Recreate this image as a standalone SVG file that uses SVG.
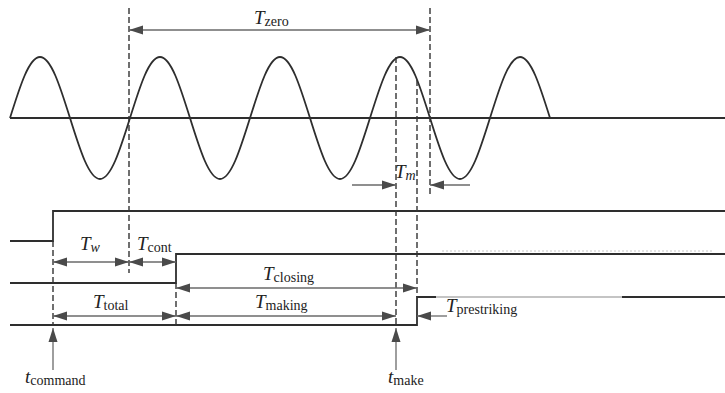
<svg xmlns="http://www.w3.org/2000/svg" width="725" height="393" viewBox="0 0 725 393">
<defs>
<style>
.sig{fill:none;stroke:#2e2e2e;stroke-width:1.8}
.dash{fill:none;stroke:#333;stroke-width:1.4;stroke-dasharray:6,3}
.arr{fill:none;stroke:#6a6a6a;stroke-width:1.3}
.t{font-family:"Liberation Serif",serif;font-size:19px;fill:#222}
.it{font-style:italic}
.sub{font-size:14px}
</style>
<marker id="ah" viewBox="0 0 14 9" refX="14" refY="4.5" markerWidth="14" markerHeight="9" markerUnits="userSpaceOnUse" orient="auto-start-reverse" overflow="visible">
<path d="M0,0 L14,4.5 L0,9 Z" fill="#4a4a4a"/>
</marker>
</defs>
<rect width="725" height="393" fill="#fff"/>
<g id="wave">
<line x1="10" y1="118" x2="725" y2="118" class="sig" stroke-width="1.6"/>
<path class="sig" stroke-width="1.6" d="M10,118 c10.03,-32.03 19.11,-61 30,-61 c10.89,0 19.97,28.97 30,61 c10.03,32.03 19.11,61 30,61 c10.89,0 19.97,-28.97 30,-61 c10.03,-32.03 19.11,-61 30,-61 c10.89,0 19.97,28.97 30,61 c10.03,32.03 19.11,61 30,61 c10.89,0 19.97,-28.97 30,-61 c10.03,-32.03 19.11,-61 30,-61 c10.89,0 19.97,28.97 30,61 c10.03,32.03 19.11,61 30,61 c10.89,0 19.97,-28.97 30,-61 c10.03,-32.03 19.11,-61 30,-61 c10.89,0 19.97,28.97 30,61 c10.03,32.03 19.11,61 30,61 c10.89,0 19.97,-28.97 30,-61 c10.03,-32.03 19.11,-61 30,-61 c10.89,0 19.97,28.97 30,61"/>
</g>
<g id="signals">
<path class="sig" d="M10,241 H53 V211 H725"/>
<path class="sig" d="M10,283 H176 V254 H725"/>
<path class="sig" d="M10,325 H417 V297 H436"/>
<path fill="none" stroke="#8a8a8a" stroke-width="1.2" d="M436,297 H622"/>
<path class="sig" d="M622,297 H725"/>
<line x1="442" y1="251" x2="712" y2="251" stroke="#c8c8c8" stroke-width="1" stroke-dasharray="2,2"/>
</g>
<g id="connectors">
<line class="dash" x1="129" y1="8" x2="129" y2="273"/>
<line class="dash" x1="430" y1="8" x2="430" y2="197"/>
<line class="dash" x1="396" y1="57" x2="396" y2="326"/>
<line class="dash" x1="417" y1="80" x2="417" y2="297"/>
<line class="dash" x1="53" y1="241" x2="53" y2="326"/>
<line class="dash" x1="176" y1="283" x2="176" y2="326"/>
<line class="arr" x1="129" y1="30" x2="430" y2="30" marker-start="url(#ah)" marker-end="url(#ah)"/>
<line class="arr" x1="352" y1="185" x2="396" y2="185" marker-end="url(#ah)"/>
<line class="arr" x1="470" y1="185" x2="430" y2="185" marker-end="url(#ah)"/>
<line class="arr" x1="53" y1="262" x2="129" y2="262" marker-start="url(#ah)" marker-end="url(#ah)"/>
<line class="arr" x1="129" y1="262" x2="176" y2="262" marker-start="url(#ah)" marker-end="url(#ah)"/>
<line class="arr" x1="176" y1="288" x2="417" y2="288" marker-start="url(#ah)" marker-end="url(#ah)"/>
<line class="arr" x1="53" y1="316" x2="176" y2="316" marker-start="url(#ah)" marker-end="url(#ah)"/>
<line class="arr" x1="176" y1="316" x2="396" y2="316" marker-start="url(#ah)" marker-end="url(#ah)"/>
<line class="arr" x1="447" y1="316" x2="417" y2="316" marker-end="url(#ah)"/>
<line class="arr" x1="53" y1="370" x2="53" y2="328" marker-end="url(#ah)"/>
<line class="arr" x1="396" y1="370" x2="396" y2="328" marker-end="url(#ah)"/>
</g>
<g id="labels">
<text class="t" x="254" y="24"><tspan class="it">T</tspan><tspan class="sub" dy="2">zero</tspan></text>
<text class="t" x="395" y="178"><tspan class="it">T</tspan><tspan class="sub it" dy="2">m</tspan></text>
<text class="t" x="80" y="250"><tspan class="it">T</tspan><tspan class="sub it" dy="2">w</tspan></text>
<text class="t" x="137" y="250"><tspan class="it">T</tspan><tspan class="sub" dy="2">cont</tspan></text>
<text class="t" x="263" y="280"><tspan class="it">T</tspan><tspan class="sub" dy="2">closing</tspan></text>
<text class="t" x="93" y="308"><tspan class="it">T</tspan><tspan class="sub" dy="2">total</tspan></text>
<text class="t" x="255" y="308"><tspan class="it">T</tspan><tspan class="sub" dy="2">making</tspan></text>
<text class="t" x="446" y="312"><tspan class="it">T</tspan><tspan class="sub" dy="2">prestriking</tspan></text>
<text class="t" x="25" y="383"><tspan class="it">t</tspan><tspan class="sub" dy="2">command</tspan></text>
<text class="t" x="388" y="383"><tspan class="it">t</tspan><tspan class="sub" dy="2">make</tspan></text>
</g>
</svg>
